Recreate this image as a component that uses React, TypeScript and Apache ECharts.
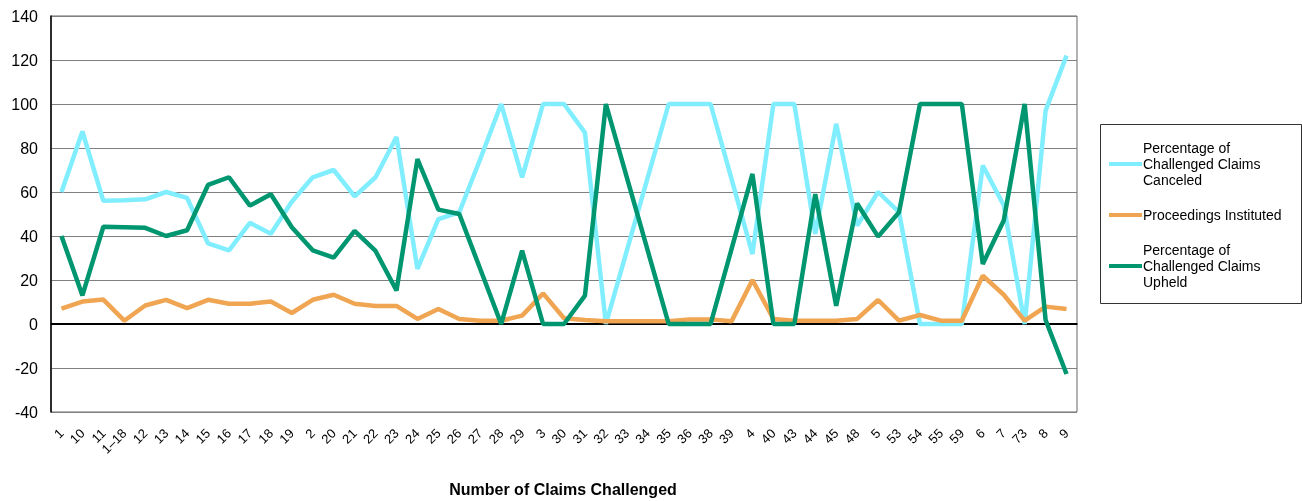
import React, { useEffect, useRef } from "react";
import * as echarts from "echarts";

const categories = ["1","10","11","1–18","12","13","14","15","16","17","18","19","2","20","21","22","23","24","25","26","27","28","29","3","30","31","32","33","34","35","36","38","39","4","40","43","44","45","48","5","53","54","55","59","6","7","73","8","9"];

const canceled = [60,87.5,56,56.3,56.7,60,57.3,36.6,33.5,46,41,55.6,66.7,70,58,66.7,85,25,47.7,50.8,75,100,66.7,100,100,87,0,33.3,66.7,100,100,100,66,31.8,100,100,41,91,44.7,60,50.8,0,0,0,72,54,0,97,122];

const proceedings = [7,10.2,11.1,1.5,8.4,11,7.2,11,9.2,9.2,10.2,5,11,13.3,9.2,8.2,8.2,2.3,6.8,2.3,1.5,1.5,3.8,13.9,2.6,1.8,1.2,1.2,1.2,1.2,2.1,2.1,1.2,20,2.3,1.5,1.5,1.5,2.3,10.9,1.5,4.1,1.5,1.5,22,13.3,1.5,7.9,6.8];

const upheld = [40,13,44.2,44,43.7,40,42.6,63.2,66.7,53.8,59,44,33.5,30.2,42.3,33.2,15.2,75,52,50,25,0,33.3,0,0,12.9,100,66.7,33.3,0,0,0,34,68.2,0,0,59,8.3,54.8,39.7,50.8,100,100,100,27.3,47,100,1.8,-22.7];

const seriesNames = ["Percentage of Challenged Claims Canceled", "Proceedings Instituted", "Percentage of Challenged Claims Upheld"];
const legendLabels = ["Percentage of\nChallenged Claims\nCanceled", "Proceedings Instituted", "Percentage of\nChallenged Claims\nUpheld"];
const colors = ["#80EEFF", "#F0A552", "#009670"];
const xTitle = "Number of Claims Challenged";

const FONT = "Arial, 'Liberation Sans', Helvetica, sans-serif";

export default function App() {
  const ref = useRef<HTMLDivElement>(null);
  useEffect(() => {
    if (!ref.current) return;
    const chart = echarts.init(ref.current, undefined, { renderer: "svg" });
    const values = [canceled, proceedings, upheld];
    chart.setOption({
      animation: false,
      textStyle: { fontFamily: FONT },
      grid: {
        left: 51, top: 16, width: 1026, height: 396,
        show: true, borderColor: "#666", borderWidth: 1,
      },
      xAxis: {
        type: "category",
        data: categories,
        boundaryGap: true,
        axisLine: { lineStyle: { color: "#000", width: 1.5 } },
        axisTick: { show: false },
        axisLabel: { interval: 0, rotate: 45, fontSize: 13, color: "#000", margin: 19, fontFamily: FONT },
        splitLine: { show: false },
      },
      yAxis: {
        type: "value",
        min: -40, max: 140, interval: 20,
        axisLine: { show: true, lineStyle: { color: "#000", width: 1.5 } },
        axisTick: { show: false },
        axisLabel: { fontSize: 16, color: "#000", margin: 13, fontFamily: FONT },
        splitLine: { lineStyle: { color: "#808080", width: 1 } },
      },
      legend: {
        orient: "vertical",
        left: 1104, top: 135,
        itemWidth: 33, itemHeight: 4,
        itemGap: 19,
        icon: "rect",
        data: seriesNames,
        formatter: (name: string) => legendLabels[seriesNames.indexOf(name)],
        textStyle: { fontSize: 14, lineHeight: 16, color: "#000", fontFamily: FONT, padding: [0, 0, 0, -4] },
      },
      graphic: [
        { type: "rect", shape: { x: 1100.5, y: 124.5, width: 201, height: 179 }, style: { fill: "none", stroke: "#333", lineWidth: 1 }, silent: true },
        { type: "text", x: 563, y: 489, style: { text: xTitle, fontSize: 16, fontWeight: "bold", fill: "#000", align: "center", verticalAlign: "middle", fontFamily: FONT } },
      ],
      series: seriesNames.map((name, i) => ({
        name,
        type: "line",
        data: values[i],
        symbol: "none",
        lineStyle: { color: colors[i], width: 4.5 },
        itemStyle: { color: colors[i] },
        ...(i === 0 ? {
          markLine: {
            silent: true, symbol: "none", label: { show: false },
            lineStyle: { color: "#000", width: 2, type: "solid" },
            data: [{ yAxis: 0 }],
            z: 1,
          },
        } : {}),
      })),
    });
    return () => chart.dispose();
  }, []);
  return <div ref={ref} style={{ position: "fixed", left: 0, top: 0, width: 1302, height: 501 }} />;
}
